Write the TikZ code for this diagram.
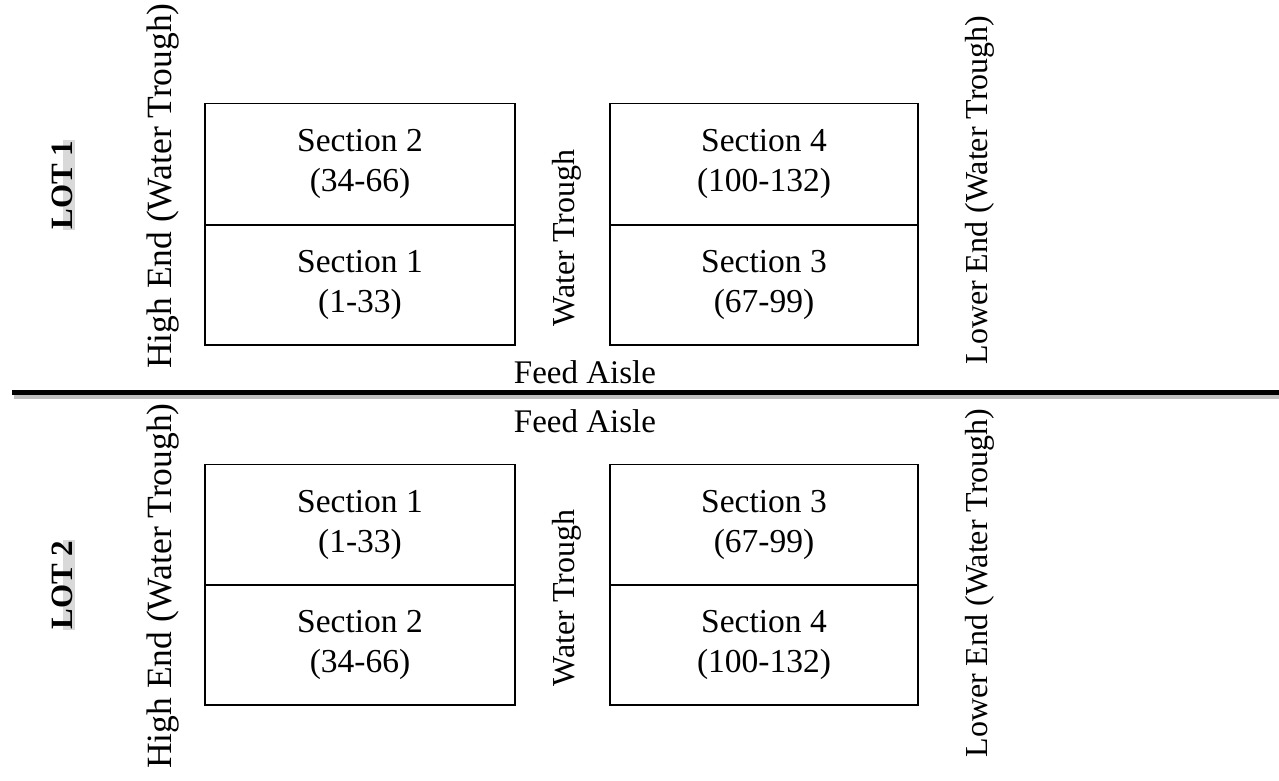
\documentclass[tikz,border=0pt]{standalone}
\usepackage{fontspec}
\setmainfont{Liberation Serif}
\begin{document}
\begin{tikzpicture}[x=1pt,y=-1pt,
  sect/.style={draw,line width=1.6pt,minimum width=310pt,minimum height=121pt,inner sep=0pt,align=center,font=\fontsize{33.5}{40}\selectfont},
  vlab/.style={rotate=90,inner sep=0pt,font=\fontsize{32}{38}\selectfont},
  hilab/.style={vlab,font=\fontsize{35.5}{40}\selectfont},
  aisle/.style={inner sep=0pt,font=\fontsize{33}{38}\selectfont},
  lot/.style={rotate=90,fill=black!15,inner xsep=1pt,inner ysep=2pt,text height=0.72em,text depth=0pt,font=\bfseries\fontsize{31}{34}\selectfont}]
\useasboundingbox (0,0) rectangle (1279,780);
% LOT 1
\node[sect] (l1s2) at (360,164) {Section 2\\(34-66)};
\node[sect,minimum height=120pt] (l1s1) at (360,285) {Section 1\\(1-33)};
\node[sect,minimum width=308pt] (l1s4) at (764,164) {Section 4\\(100-132)};
\node[sect,minimum width=308pt,minimum height=120pt] (l1s3) at (764,285) {Section 3\\(67-99)};
\node[hilab] (l1hi) at (163,186) {High End (Water Trough)};
\node[vlab] (l1wt) at (567,238) {Water Trough};
\node[vlab] (l1lo) at (980,190) {Lower End (Water Trough)};
\node[lot] (lot1) at (69,185) {LOT 1};
\node[aisle] (fa1) at (585,372) {Feed Aisle};
% divider
\coordinate (dl) at (12,392);
\coordinate (dr) at (1279,392);
\coordinate (sl) at (14,397);
\coordinate (sr) at (1279,397);
\draw[line width=4pt,black!25] (sl) -- (sr);
\draw[line width=2pt,black!15] ([yshift=3pt]sl) -- ([yshift=3pt]sr);
\draw[line width=5pt] (dl) -- (dr);
% LOT 2
\node[aisle] (fa2) at (585,421) {Feed Aisle};
\node[sect] (l2s1) at (360,525) {Section 1\\(1-33)};
\node[sect,minimum height=120pt] (l2s2) at (360,645) {Section 2\\(34-66)};
\node[sect,minimum width=308pt] (l2s3) at (764,525) {Section 3\\(67-99)};
\node[sect,minimum width=308pt,minimum height=120pt] (l2s4) at (764,645) {Section 4\\(100-132)};
\node[hilab] (l2hi) at (163,586) {High End (Water Trough)};
\node[vlab] (l2wt) at (567,598) {Water Trough};
\node[vlab] (l2lo) at (980,583) {Lower End (Water Trough)};
\node[lot] (lot2) at (69,585) {LOT 2};
\end{tikzpicture}
\end{document}
